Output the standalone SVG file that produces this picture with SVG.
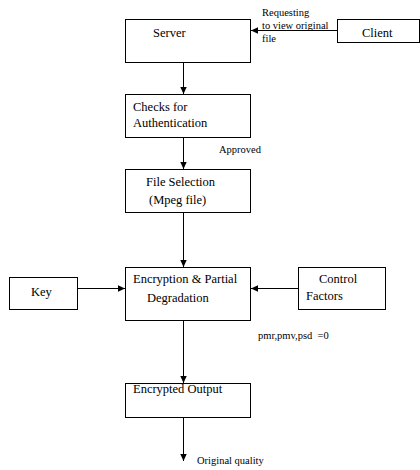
<svg xmlns="http://www.w3.org/2000/svg" width="420" height="470" viewBox="0 0 420 470">
<style>
.box{fill:#fff;stroke:#000;stroke-width:1}
text{font-family:"Times New Roman",Tinos,"Liberation Serif","DejaVu Serif","Noto Serif",FreeSerif,Times,serif;fill:#000}
.t{font-size:12.5px}
.s{font-size:10.5px;white-space:pre}
.c{stroke:#000;stroke-width:1;fill:none;marker-end:url(#ah)}
</style>
<defs>
<marker id="ah" markerWidth="8" markerHeight="8" refX="7" refY="4" orient="auto" markerUnits="userSpaceOnUse">
<path d="M0,0.8 L7,4 L0,7.2 Z" fill="#000"/>
</marker>
</defs>
<rect width="420" height="470" fill="#fff"/>
<g id="connectors">
<line class="c" x1="337" y1="30.5" x2="251" y2="30.5"/>
<line class="c" x1="183.5" y1="62" x2="183.5" y2="94"/>
<line class="c" x1="183.5" y1="137" x2="183.5" y2="169"/>
<line class="c" x1="183.5" y1="212" x2="183.5" y2="267"/>
<line class="c" x1="78" y1="288.5" x2="125" y2="288.5"/>
<line class="c" x1="298" y1="288.5" x2="251" y2="288.5"/>
<line class="c" x1="183.5" y1="320" x2="183.5" y2="383"/>
<line class="c" x1="183.5" y1="417" x2="183.5" y2="461"/>
</g>
<g id="labels">
<text class="s" x="262" y="16">Requesting</text>
<text class="s" x="262" y="29">to view original</text>
<text class="s" x="262" y="42">file</text>
<text class="s" x="219" y="153">Approved</text>
<text class="s" x="258" y="339">pmr,pmv,psd  =0</text>
<text class="s" x="197" y="464">Original quality</text>
</g>
<g id="server">
<rect class="box" x="125.5" y="19.5" width="125" height="43"/>
<text class="t" x="153" y="37">Server</text>
</g>
<g id="client">
<rect class="box" x="337.5" y="19.5" width="82" height="23"/>
<text class="t" x="362" y="37">Client</text>
</g>
<g id="checks">
<rect class="box" x="125.5" y="94.5" width="125" height="43"/>
<text class="t" x="133" y="111">Checks for</text>
<text class="t" x="133" y="127">Authentication</text>
</g>
<g id="fileselection">
<rect class="box" x="125.5" y="169.5" width="125" height="43"/>
<text class="t" x="146" y="186">File Selection</text>
<text class="t" x="149" y="204">(Mpeg file)</text>
</g>
<g id="encryption">
<rect class="box" x="125.5" y="267.5" width="125" height="53"/>
<text class="t" x="133" y="283">Encryption &amp; Partial</text>
<text class="t" x="147" y="302">Degradation</text>
</g>
<g id="key">
<rect class="box" x="9.5" y="277.5" width="68" height="32"/>
<text class="t" x="31" y="296">Key</text>
</g>
<g id="control">
<rect class="box" x="298.5" y="267.5" width="87" height="42"/>
<text class="t" x="319" y="283">Control</text>
<text class="t" x="306" y="300">Factors</text>
</g>
<g id="output">
<rect class="box" x="125.5" y="383.5" width="125" height="34"/>
<text class="t" x="133" y="393">Encrypted Output</text>
</g>
</svg>
